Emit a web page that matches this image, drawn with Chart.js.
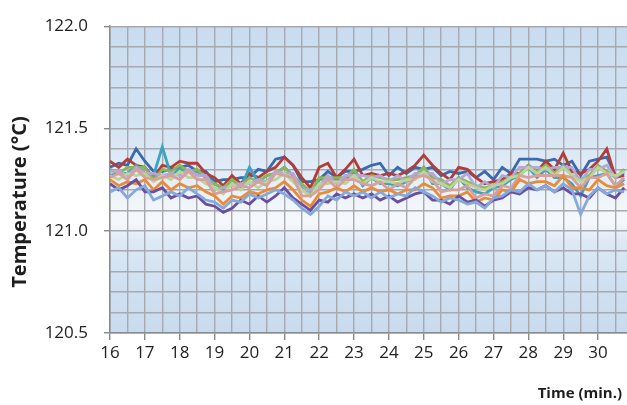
<!DOCTYPE html>
<html>
<head>
<meta charset="utf-8">
<script src="https://cdn.jsdelivr.net/npm/chart.js@4.4.1/dist/chart.umd.min.js"></script>
<style>
  html, body { margin: 0; padding: 0; background: #fff; }
  #wrap { width: 627px; height: 405px; }
</style>
</head>
<body>
<div id="wrap"><canvas id="chart" width="627" height="405"></canvas></div>
<script>
// sample times (min.)
const times = [16.00, 16.25, 16.50, 16.75, 17.00, 17.25, 17.50, 17.75, 18.00, 18.25,
  18.50, 18.75, 19.00, 19.25, 19.50, 19.75, 20.00, 20.25, 20.50, 20.75,
  21.00, 21.25, 21.50, 21.75, 22.00, 22.25, 22.50, 22.75, 23.00, 23.25,
  23.50, 23.75, 24.00, 24.25, 24.50, 24.75, 25.00, 25.25, 25.50, 25.75,
  26.00, 26.25, 26.50, 26.75, 27.00, 27.25, 27.50, 27.75, 28.00, 28.25,
  28.50, 28.75, 29.00, 29.25, 29.50, 29.75, 30.00, 30.25, 30.50, 30.75];

// temperature readings (°C), one array per probe
const lightBlue = [121.19, 121.21, 121.16, 121.20, 121.22, 121.15, 121.17, 121.19, 121.17, 121.21,
  121.18, 121.15, 121.14, 121.11, 121.15, 121.14, 121.18, 121.16, 121.18, 121.20,
  121.18, 121.15, 121.11, 121.08, 121.12, 121.17, 121.15, 121.19, 121.17, 121.19,
  121.16, 121.19, 121.16, 121.18, 121.17, 121.21, 121.19, 121.17, 121.14, 121.16,
  121.15, 121.13, 121.14, 121.11, 121.16, 121.17, 121.20, 121.19, 121.23, 121.20,
  121.22, 121.19, 121.23, 121.20, 121.08, 121.17, 121.21, 121.18, 121.20, 121.19];
const purple = [121.23, 121.20, 121.22, 121.25, 121.19, 121.19, 121.21, 121.16, 121.18, 121.16,
  121.17, 121.13, 121.12, 121.09, 121.11, 121.15, 121.13, 121.17, 121.14, 121.17,
  121.21, 121.16, 121.13, 121.10, 121.15, 121.14, 121.18, 121.16, 121.18, 121.16,
  121.18, 121.15, 121.17, 121.14, 121.16, 121.18, 121.19, 121.15, 121.15, 121.13,
  121.17, 121.14, 121.15, 121.12, 121.15, 121.16, 121.19, 121.18, 121.21, 121.20,
  121.22, 121.19, 121.21, 121.18, 121.18, 121.16, 121.21, 121.18, 121.16, 121.21];
const orange = [121.25, 121.22, 121.24, 121.23, 121.25, 121.20, 121.24, 121.20, 121.23, 121.21,
  121.22, 121.19, 121.17, 121.13, 121.17, 121.16, 121.19, 121.18, 121.20, 121.21,
  121.24, 121.20, 121.15, 121.12, 121.18, 121.19, 121.21, 121.19, 121.22, 121.19,
  121.21, 121.19, 121.20, 121.18, 121.20, 121.20, 121.23, 121.21, 121.16, 121.17,
  121.17, 121.19, 121.14, 121.16, 121.15, 121.20, 121.19, 121.25, 121.23, 121.24,
  121.24, 121.22, 121.27, 121.21, 121.21, 121.20, 121.25, 121.22, 121.21, 121.23];
const pink = [121.26, 121.28, 121.25, 121.30, 121.26, 121.25, 121.26, 121.27, 121.25, 121.29,
  121.25, 121.25, 121.18, 121.19, 121.20, 121.22, 121.21, 121.24, 121.22, 121.28,
  121.27, 121.26, 121.17, 121.17, 121.20, 121.25, 121.21, 121.25, 121.25, 121.23,
  121.22, 121.24, 121.20, 121.23, 121.21, 121.26, 121.27, 121.25, 121.19, 121.20,
  121.20, 121.22, 121.16, 121.18, 121.17, 121.22, 121.21, 121.27, 121.26, 121.27,
  121.27, 121.27, 121.27, 121.26, 121.21, 121.26, 121.26, 121.28, 121.22, 121.26];
const lightGreen = [121.27, 121.25, 121.28, 121.27, 121.28, 121.24, 121.27, 121.25, 121.29, 121.26,
  121.26, 121.23, 121.21, 121.18, 121.23, 121.20, 121.24, 121.21, 121.24, 121.25,
  121.28, 121.24, 121.20, 121.17, 121.23, 121.23, 121.24, 121.23, 121.27, 121.23,
  121.26, 121.24, 121.24, 121.23, 121.25, 121.25, 121.29, 121.24, 121.23, 121.21,
  121.25, 121.23, 121.21, 121.20, 121.22, 121.23, 121.26, 121.27, 121.31, 121.28,
  121.31, 121.27, 121.31, 121.27, 121.24, 121.26, 121.31, 121.28, 121.27, 121.29];
const lavender = [121.29, 121.29, 121.27, 121.31, 121.28, 121.28, 121.27, 121.28, 121.27, 121.30,
  121.27, 121.27, 121.20, 121.21, 121.22, 121.23, 121.23, 121.25, 121.24, 121.29,
  121.28, 121.28, 121.20, 121.20, 121.22, 121.27, 121.23, 121.27, 121.27, 121.27,
  121.26, 121.27, 121.24, 121.27, 121.24, 121.28, 121.28, 121.28, 121.23, 121.25,
  121.25, 121.28, 121.21, 121.24, 121.21, 121.27, 121.26, 121.31, 121.31, 121.31,
  121.30, 121.31, 121.31, 121.31, 121.24, 121.30, 121.30, 121.32, 121.26, 121.29];
const green = [121.30, 121.28, 121.31, 121.31, 121.31, 121.25, 121.30, 121.29, 121.32, 121.29,
  121.30, 121.26, 121.23, 121.21, 121.25, 121.22, 121.26, 121.24, 121.27, 121.28,
  121.31, 121.27, 121.23, 121.19, 121.26, 121.26, 121.26, 121.26, 121.30, 121.24,
  121.27, 121.26, 121.25, 121.25, 121.26, 121.27, 121.31, 121.26, 121.25, 121.22,
  121.26, 121.24, 121.22, 121.21, 121.22, 121.24, 121.26, 121.28, 121.32, 121.29,
  121.32, 121.28, 121.32, 121.27, 121.25, 121.27, 121.32, 121.29, 121.26, 121.30];
const teal = [121.27, 121.28, 121.28, 121.32, 121.28, 121.27, 121.41, 121.27, 121.30, 121.29,
  121.29, 121.26, 121.23, 121.20, 121.25, 121.21, 121.31, 121.24, 121.27, 121.28,
  121.31, 121.27, 121.21, 121.17, 121.25, 121.26, 121.25, 121.25, 121.29, 121.22,
  121.26, 121.23, 121.23, 121.22, 121.24, 121.26, 121.31, 121.23, 121.23, 121.20,
  121.26, 121.21, 121.19, 121.18, 121.21, 121.22, 121.25, 121.27, 121.31, 121.26,
  121.30, 121.26, 121.26, 121.23, 121.17, 121.26, 121.27, 121.28, 121.22, 121.25];
const red = [121.34, 121.31, 121.35, 121.32, 121.31, 121.26, 121.32, 121.31, 121.34, 121.33,
  121.33, 121.28, 121.26, 121.22, 121.27, 121.23, 121.28, 121.26, 121.29, 121.31,
  121.36, 121.32, 121.26, 121.21, 121.31, 121.33, 121.26, 121.30, 121.35, 121.27,
  121.28, 121.27, 121.28, 121.27, 121.29, 121.32, 121.37, 121.32, 121.28, 121.25,
  121.31, 121.30, 121.26, 121.23, 121.24, 121.25, 121.28, 121.28, 121.32, 121.29,
  121.34, 121.30, 121.38, 121.29, 121.28, 121.30, 121.34, 121.40, 121.26, 121.27];
const blue = [121.31, 121.33, 121.32, 121.40, 121.34, 121.29, 121.29, 121.30, 121.31, 121.32,
  121.29, 121.29, 121.24, 121.25, 121.25, 121.26, 121.26, 121.30, 121.29, 121.35,
  121.36, 121.32, 121.24, 121.24, 121.25, 121.29, 121.26, 121.29, 121.29, 121.30,
  121.32, 121.33, 121.27, 121.31, 121.28, 121.31, 121.30, 121.31, 121.27, 121.29,
  121.28, 121.29, 121.26, 121.29, 121.25, 121.31, 121.28, 121.35, 121.35, 121.35,
  121.34, 121.35, 121.32, 121.34, 121.27, 121.34, 121.35, 121.36, 121.27, 121.28];

// grid positions and labelled ticks
const yGrid = [120.5, 120.6, 120.7, 120.8, 120.9, 121.0, 121.1, 121.2, 121.3, 121.4,
  121.5, 121.6, 121.7, 121.8, 121.9, 122.0];
const yLabels = [120.5, 121.0, 121.5, 122.0];
const xGrid = [16, 16.5, 17, 17.5, 18, 18.5, 19, 19.5, 20, 20.5, 21, 21.5, 22, 22.5,
  23, 23.5, 24, 24.5, 25, 25.5, 26, 26.5, 27, 27.5, 28, 28.5, 29, 29.5, 30, 30.5];
const xLabels = [16, 17, 18, 19, 20, 21, 22, 23, 24, 25, 26, 27, 28, 29, 30];

const series = [
  { name: 'Probe 1', values: lightBlue, color: '#86a9dc' },
  { name: 'Probe 2', values: purple, color: '#6b4f9f' },
  { name: 'Probe 3', values: orange, color: '#ec8b36' },
  { name: 'Probe 4', values: pink, color: '#d8a09c' },
  { name: 'Probe 5', values: lightGreen, color: '#bdd494' },
  { name: 'Probe 6', values: lavender, color: '#b4a8d2' },
  { name: 'Probe 7', values: green, color: '#8db455' },
  { name: 'Probe 8', values: teal, color: '#3ca4c2' },
  { name: 'Probe 9', values: red, color: '#b43c38' },
  { name: 'Probe 10', values: blue, color: '#3c68ad' }
];

const hasValue = (list, v) => list.some(l => Math.abs(l - v) < 1e-6);

// light blue plot area with a pale band across the middle
const plotBackdrop = {
  id: 'plotBackdrop',
  beforeDraw(chart) {
    const { ctx, chartArea: a } = chart;
    const g = ctx.createLinearGradient(0, a.top, 0, a.bottom);
    g.addColorStop(0, '#c9dcef');
    g.addColorStop(0.3, '#d2e3f3');
    g.addColorStop(0.5, '#e4eef8');
    g.addColorStop(0.6, '#f3f7fb');
    g.addColorStop(0.64, '#f5f8fc');
    g.addColorStop(0.7, '#dce9f5');
    g.addColorStop(0.85, '#cfe0f1');
    g.addColorStop(1, '#c8dbee');
    ctx.save();
    ctx.fillStyle = g;
    ctx.fillRect(a.left, a.top, a.right - a.left, a.bottom - a.top);
    ctx.restore();
  }
};

const axisTitles = {
  id: 'axisTitles',
  afterDraw(chart) {
    const ctx = chart.ctx;
    ctx.save();
    ctx.fillStyle = '#1e1e1e';
    ctx.font = 'bold 20px "Open Sans"';
    ctx.textAlign = 'center';
    ctx.textBaseline = 'middle';
    ctx.translate(20, 202);
    ctx.rotate(-Math.PI / 2);
    ctx.fillText('Temperature (°C)', 0, 0);
    ctx.restore();

    ctx.save();
    ctx.fillStyle = '#1e1e1e';
    ctx.font = 'bold 15px "Open Sans"';
    ctx.textAlign = 'right';
    ctx.textBaseline = 'middle';
    ctx.fillText('Time (min.)', 622, 394);
    ctx.restore();
  }
};

new Chart(document.getElementById('chart'), {
  type: 'line',
  data: {
    datasets: series.map(s => ({
      label: s.name,
      data: times.map((t, i) => ({ x: t, y: s.values[i] })),
      borderColor: s.color,
      borderWidth: 2.8,
      pointRadius: 0,
      tension: 0,
      fill: false
    }))
  },
  options: {
    responsive: false,
    animation: false,
    layout: { padding: { left: 0, right: 0, top: 20, bottom: 0 } },
    plugins: {
      legend: { display: false },
      tooltip: { enabled: false }
    },
    scales: {
      x: {
        type: 'linear',
        min: 16,
        max: 30.83,
        afterBuildTicks: scale => { scale.ticks = xGrid.map(v => ({ value: v })); },
        afterFit: scale => { scale.height = 72; },
        grid: {
          color: '#a7a8b0',
          lineWidth: 1.4,
          tickLength: 7,
          tickColor: ctx => (ctx.tick && hasValue(xLabels, ctx.tick.value)) ? '#8a8a8a' : 'rgba(0,0,0,0)'
        },
        border: { color: '#8c8c8c', width: 1.5 },
        ticks: {
          autoSkip: false,
          maxRotation: 0,
          padding: 3,
          color: '#222',
          font: { family: 'Open Sans', size: 17 },
          callback: v => hasValue(xLabels, v) ? String(Math.round(v)) : ''
        }
      },
      y: {
        min: 120.5,
        max: 122.0,
        afterBuildTicks: scale => { scale.ticks = yGrid.map(v => ({ value: v })); },
        afterFit: scale => { scale.width = 110; },
        grid: {
          color: '#a7a8b0',
          lineWidth: 1.4,
          tickLength: 6,
          tickColor: ctx => (ctx.tick && hasValue(yLabels, ctx.tick.value)) ? '#8a8a8a' : 'rgba(0,0,0,0)'
        },
        border: { color: '#8c8c8c', width: 1.5 },
        ticks: {
          autoSkip: false,
          padding: 16,
          color: '#222',
          font: { family: 'Open Sans', size: 17 },
          callback: v => hasValue(yLabels, v) ? v.toFixed(1) : ''
        }
      }
    }
  },
  plugins: [plotBackdrop, axisTitles]
});
</script>
</body>
</html>
